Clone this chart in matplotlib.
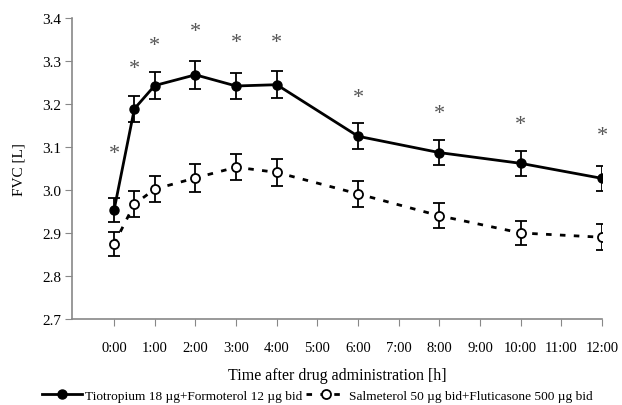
import matplotlib.pyplot as plt
from matplotlib.lines import Line2D

plt.rcParams['font.family'] = ['Liberation Serif', 'DejaVu Serif']

hours = [0, 0.5, 1, 2, 3, 4, 6, 8, 10, 12]
tio_form = [2.953, 3.189, 3.243, 3.268, 3.242, 3.245, 3.125, 3.087, 3.062, 3.027]
tio_err = [0.028, 0.030, 0.031, 0.033, 0.030, 0.032, 0.030, 0.030, 0.029, 0.029]
salm_flut = [2.874, 2.967, 3.002, 3.028, 3.053, 3.041, 2.991, 2.940, 2.900, 2.890]
salm_err = [0.028, 0.030, 0.031, 0.032, 0.030, 0.031, 0.030, 0.029, 0.029, 0.030]
star_y = [3.085, 3.283, 3.337, 3.369, 3.344, 3.344, 3.216, 3.178, 3.153, 3.127]
tick_hours = list(range(13))
tick_labels = ["%d:00" % h for h in tick_hours]
y_ticks = [2.7, 2.8, 2.9, 3.0, 3.1, 3.2, 3.3, 3.4]

fig = plt.figure(figsize=(6.22, 4.06), dpi=100)
ax = fig.add_axes([0.116, 0.212, 0.852, 0.741])

ax.errorbar(hours, tio_form, yerr=tio_err, color="black", lw=2.0,
            marker="o", ms=6.5, mfc="black", mec="black",
            ecolor="black", elinewidth=1.3, capsize=4, capthick=1.3, zorder=3)
ax.errorbar(hours, salm_flut, yerr=salm_err, color="black", lw=2.0,
            ls=(0, (2.0, 3.0)), marker="o", ms=6.5, mfc="white", mec="black",
            mew=1.3, ecolor="black", elinewidth=1.3, capsize=4, capthick=1.3,
            zorder=3)

for h, y in zip(hours, star_y):
    ax.text(h, y, "*", ha="center", va="center", fontsize=16, color="#555555")

ax.set_xlim(-1.03, 12.0)
ax.set_ylim(2.7, 3.4)
ax.set_xticks(tick_hours)
ax.set_xticklabels(tick_labels, fontsize=10.5)
ax.set_yticks(y_ticks)
ax.set_yticklabels(["%.1f" % v for v in y_ticks], fontsize=11)
ax.tick_params(axis="x", direction="out", length=5, color="#888888", pad=11)
ax.tick_params(axis="y", direction="out", length=5, color="#888888", pad=3)
for s in ["top", "right"]:
    ax.spines[s].set_visible(False)
for s in ["left", "bottom"]:
    ax.spines[s].set_color("#888888")
    ax.spines[s].set_linewidth(1.2)

ax.set_ylabel("FVC [L]", fontsize=11, labelpad=12)
ax.set_xlabel("Time after drug administration [h]", fontsize=11.5, labelpad=9)

handles = [
    Line2D([], [], color="black", lw=2.0, marker="o", ms=6.5),
    Line2D([], [], color="black", lw=2.0, ls=(0, (2.0, 3.0)), marker="o",
           ms=6.5, mfc="white", mew=1.3),
]
labels = ["Tiotropium 18 \u00b5g+Formoterol 12 \u00b5g bid",
          "Salmeterol 50 \u00b5g bid+Fluticasone 500 \u00b5g bid"]
fig.legend(handles, labels, loc="lower center", bbox_to_anchor=(0.51, -0.022),
           ncol=2, frameon=False, fontsize=9.6, handlelength=3.0,
           handletextpad=0.2, columnspacing=0.3)

fig.savefig("out.png", dpi=100)
